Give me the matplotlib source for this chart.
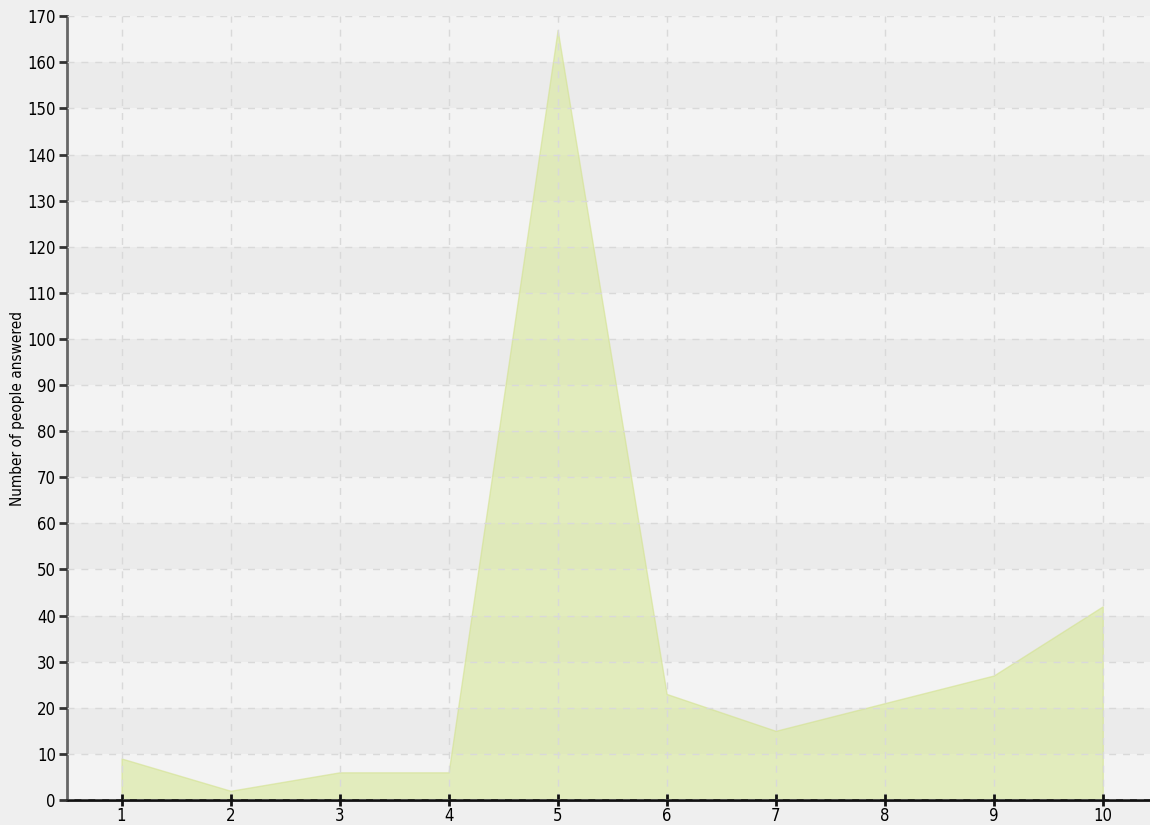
import matplotlib
matplotlib.use("Agg")
import matplotlib.pyplot as plt

# data
answers = [1, 2, 3, 4, 5, 6, 7, 8, 9, 10]
counts = [9, 2, 6, 6, 167, 23, 15, 21, 27, 42]
y_ticks = list(range(0, 171, 10))

plt.rcParams['font.family'] = ['DejaVu Sans']

fig = plt.figure(figsize=(11.5, 8.25), dpi=100)
fig.patch.set_facecolor('#efefef')
ax = fig.add_axes([0.0583, 0.0303, 0.948, 0.950])
ax.set_facecolor('#f3f3f3')

# alternating horizontal bands
for lo in range(10, 170, 20):
    ax.axhspan(lo, lo + 10, color='#ebebeb', zorder=0, lw=0)

ax.fill_between(answers, counts, 0, color='#d8e89a', alpha=0.6,
                edgecolor='#d3e28f', linewidth=1, zorder=2)

ax.set_xlim(0.5, 10.5)
ax.set_ylim(0, 170)
ax.set_xticks(answers)
ax.set_yticks(y_ticks)
ax.grid(True, color='#d9d9d9', linestyle=(0, (5, 5)), linewidth=1)
ax.set_axisbelow(False)
ax.xaxis.set_zorder(3)
ax.yaxis.set_zorder(3)

for s in ['top', 'right']:
    ax.spines[s].set_visible(False)
ax.spines['left'].set_color('#666666')
ax.spines['left'].set_linewidth(2)
ax.spines['bottom'].set_color('#111111')
ax.spines['bottom'].set_linewidth(2)

ax.tick_params(axis='y', direction='out', length=6, width=2, color='#333333',
               labelsize=12, pad=2)
ax.tick_params(axis='x', direction='inout', length=8, width=2, color='#111111',
               labelsize=12, pad=1)
for lbl in ax.get_xticklabels() + ax.get_yticklabels():
    lbl.set_fontstretch('condensed')

ax.set_ylabel('Number of people answered', fontsize=11, fontstretch='condensed',
              labelpad=2)

fig.savefig('out.png', dpi=100, facecolor=fig.get_facecolor())
